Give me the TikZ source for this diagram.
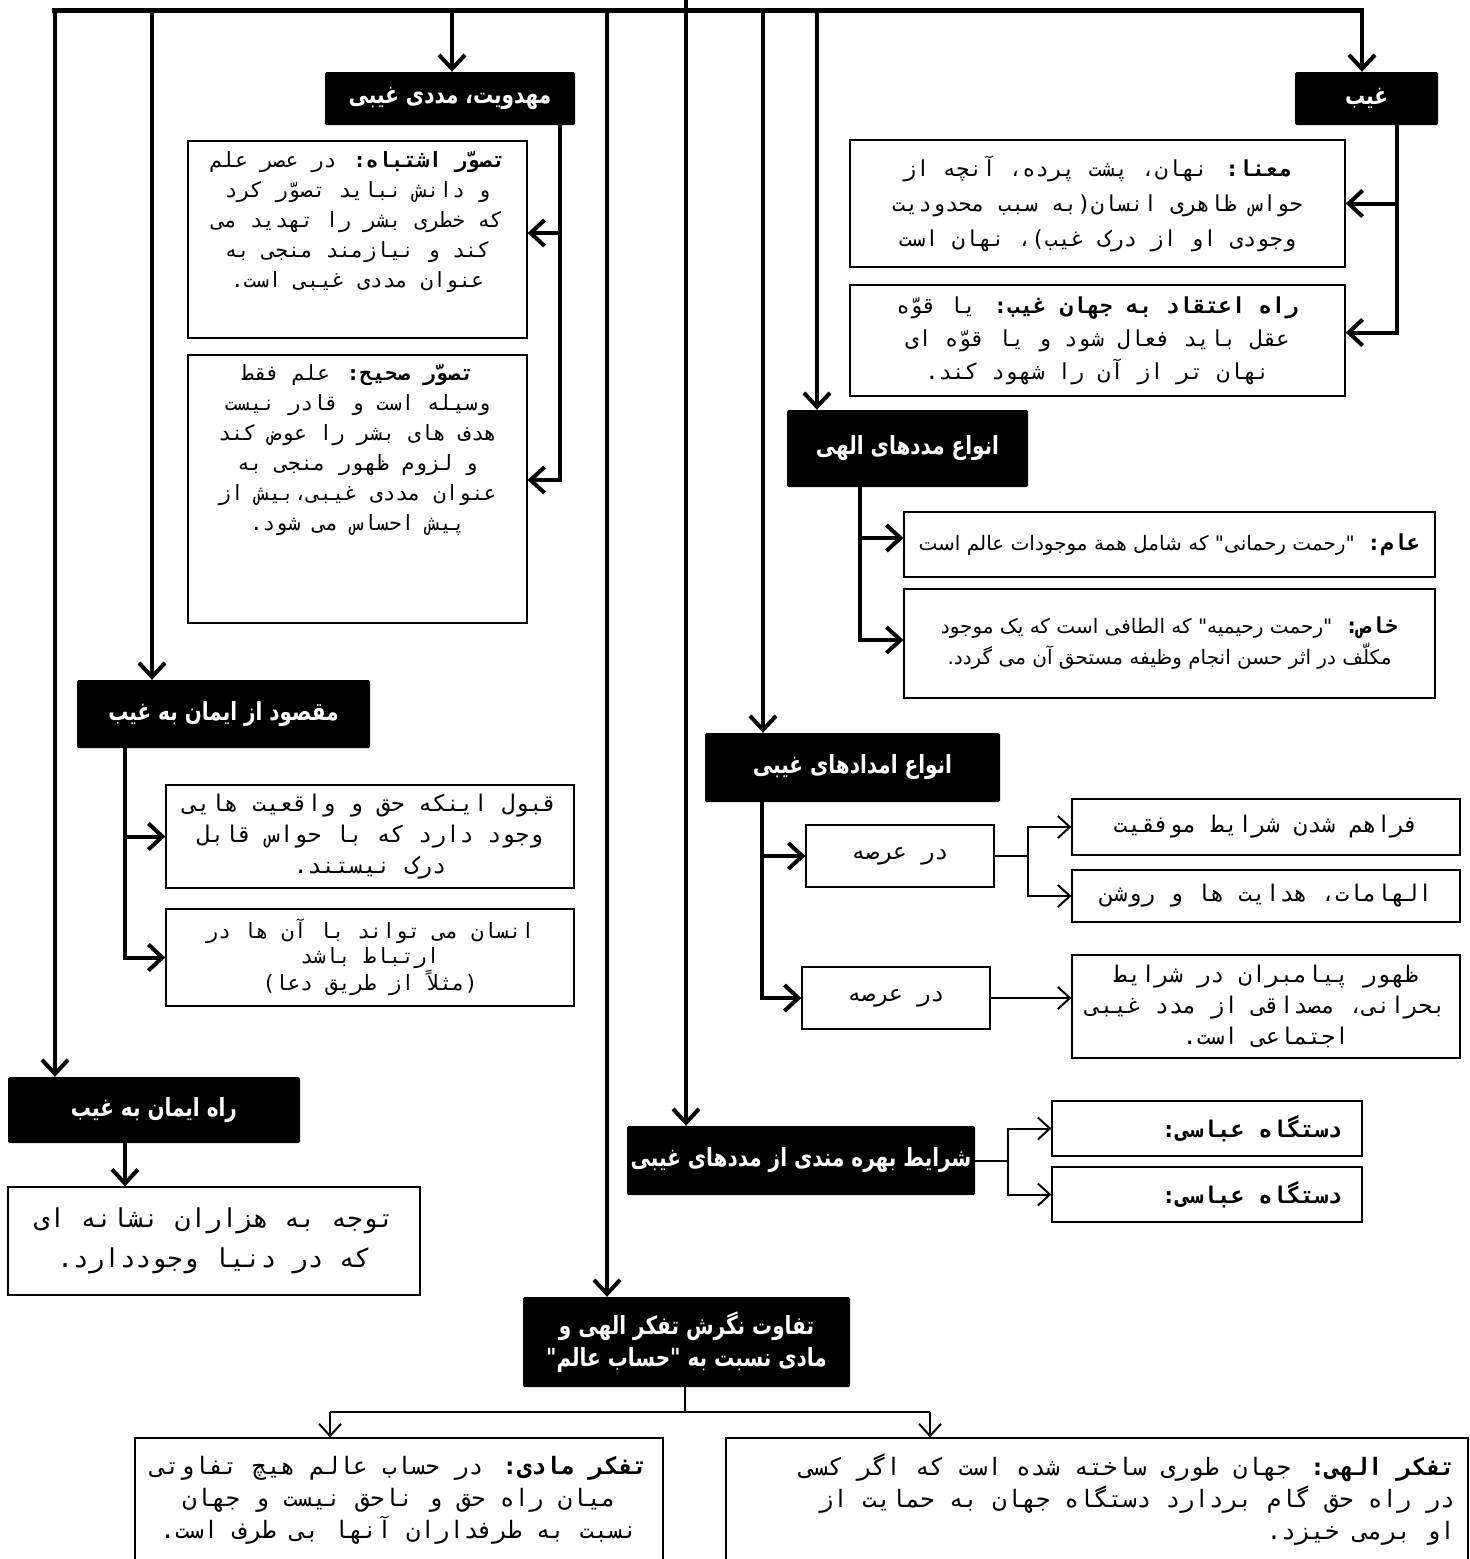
\documentclass[tikz,border=0pt]{standalone}
\usepackage{fontspec}
\usetikzlibrary{arrows.meta,positioning}
\TeXXeTstate=1
\newfontfamily\bodyfa[Script=Arabic]{DejaVu Sans Mono}
\newfontfamily\sansfa[Script=Arabic]{DejaVu Sans}
\newfontfamily\headfa[Script=Arabic,FakeStretch=0.8]{DejaVu Sans}
\newcommand{\rl}[1]{\beginR #1\endR}

\tikzset{
  head/.style={fill=black, rounded corners=1.5pt, text=white, inner sep=0pt,
    font=\headfa\bfseries\fontsize{25}{32}\selectfont, align=center},
  panel/.style={draw, line width=1.3pt, inner sep=0pt, align=center,
    font=\bodyfa\fontsize{23}{31}\selectfont},
  words/.style={inner sep=0pt, align=center, font=\bodyfa\fontsize{21}{30}\selectfont},
  link/.style={line width=4pt},
  fine/.style={line width=2pt},
  bigarrow/.style={-{Straight Barb[length=14pt,width=26pt]}},
  smallarrow/.style={-{Straight Barb[length=12pt,width=22pt]}},
}

\begin{document}
\begin{tikzpicture}[x=1pt,y=-1pt]
  \useasboundingbox (0,0) rectangle (1470,1559);

  % black heads
  \node[head, minimum width=143, minimum height=53] (ghayb) at (1366.5,98.5) {\rl{غیب}};
  \node[head, minimum width=250, minimum height=53] (mahdaviat) at (450,98.5) {\rl{مهدویت، مددی غیبی}};
  \node[head, minimum width=241, minimum height=77] (madadha) at (907.5,448.5) {\rl{انواع مددهای الهی}};
  \node[head, minimum width=295, minimum height=69] (emdadha) at (852.5,767.5) {\rl{انواع امدادهای غیبی}};
  \node[head, minimum width=293, minimum height=68] (maghsud) at (223.5,714) {\rl{مقصود از ایمان به غیب}};
  \node[head, minimum width=292, minimum height=66] (rah) at (154,1110) {\rl{راه ایمان به غیب}};
  \node[head, minimum width=348, minimum height=69] (sharayet) at (801,1160.5) {\rl{شرایط بهره مندی از مددهای غیبی}};
  \node[head, minimum width=327, minimum height=90] (tafavot) at (686.5,1342)
    {\rl{تفاوت نگرش تفکر الهی و}\\\rl{مادی نسبت به "حساب عالم"}};

  % white boxes
  \node[panel, minimum width=495, minimum height=127, font=\bodyfa\fontsize{22}{35}\selectfont] (mana) at (1097.5,203.5)
    {\rl{\textbf{معنا:} نهان، پشت پرده، آنچه از}\\
     \rl{حواس ظاهری انسان(به سبب محدودیت}\\
     \rl{وجودی او از درک غیب)، نهان است}};
  \node[panel, minimum width=495, minimum height=111, font=\bodyfa\fontsize{22}{33}\selectfont] (etghad) at (1097.5,340.5)
    {\rl{\textbf{راه اعتقاد به جهان غیب:} یا قوّه}\\
     \rl{عقل باید فعال شود و یا قوّه ای}\\
     \rl{نهان تر از آن را شهود کند.}};

  \node[panel, minimum width=339, minimum height=197] (eshtebah) at (357.5,239.5) {};
  \node[words] (eshtebahtext) at (357.5,222)
    {\rl{\textbf{تصوّر اشتباه:} در عصر علم}\\
     \rl{و دانش نباید تصوّر کرد}\\
     \rl{که خطری بشر را تهدید می}\\
     \rl{کند و نیازمند منجی به}\\
     \rl{عنوان مددی غیبی است.}};
  \node[panel, minimum width=339, minimum height=268] (sahih) at (357.5,489) {};
  \node[words] (sahihtext) at (357.5,450)
    {\rl{\textbf{تصوّر صحیح:} علم فقط}\\
     \rl{وسیله است و قادر نیست}\\
     \rl{هدف های بشر را عوض کند}\\
     \rl{و لزوم ظهور منجی به}\\
     \rl{عنوان مددی غیبی،بیش از}\\
     \rl{پیش احساس می شود.}};

  \node[panel, minimum width=531, minimum height=65, font=\sansfa\fontsize{20}{30}\selectfont] (aam) at (1169.5,544.5)
    {\rl{{\bodyfa\bfseries\fontsize{22}{30}\selectfont عام:}\ \ "رحمت رحمانی" که شامل همة موجودات عالم است}};
  \node[panel, minimum width=531, minimum height=109, font=\sansfa\fontsize{20}{31}\selectfont] (khas) at (1169.5,643.5)
    {\rl{{\bodyfa\bfseries\fontsize{22}{31}\selectfont خاص:}\ \ "رحمت رحیمیه" که الطافی است که یک موجود}\\
     \rl{مکلّف در اثر حسن انجام وظیفه مستحق آن می گردد.}};

  \node[panel, minimum width=188, minimum height=62] (arse1) at (900,856) {\rl{در عرصه}};
  \node[panel, minimum width=188, minimum height=62] (arse2) at (896,998) {\rl{در عرصه}};
  \node[panel, minimum width=388, minimum height=56] (faraham) at (1266,827) {\rl{فراهم شدن شرایط موفقیت}};
  \node[panel, minimum width=388, minimum height=52] (elhamat) at (1266,896) {\rl{الهامات، هدایت ها و روشن}};
  \node[panel, minimum width=388, minimum height=103] (zohur) at (1266,1006.5)
    {\rl{ظهور پیامبران در شرایط}\\
     \rl{بحرانی، مصداقی از مدد غیبی}\\
     \rl{اجتماعی است.}};

  \node[panel, minimum width=310, minimum height=55] (dastgah1) at (1207,1128.5) {};
  \node[words, anchor=east, font=\bodyfa\bfseries\fontsize{23}{30}\selectfont] (dastgah1text) at (1342,1128.5)
    {\rl{دستگاه عباسی:}};
  \node[panel, minimum width=310, minimum height=55] (dastgah2) at (1207,1194.5) {};
  \node[words, anchor=east, font=\bodyfa\bfseries\fontsize{23}{30}\selectfont] (dastgah2text) at (1342,1194.5)
    {\rl{دستگاه عباسی:}};

  \node[panel, minimum width=408, minimum height=103] (ghabul) at (370,836.5)
    {\rl{قبول اینکه حق و واقعیت هایی}\\
     \rl{وجود دارد که با حواس قابل}\\
     \rl{درک نیستند.}};
  \node[panel, minimum width=408, minimum height=97, font=\bodyfa\fontsize{21}{25}\selectfont] (ensan) at (370,957.5)
    {\rl{انسان می تواند با آن ها در}\\
     \rl{ارتباط باشد}\\
     \rl{(مثلاً از طریق دعا)}};

  \node[panel, minimum width=412, minimum height=108, font=\bodyfa\fontsize{26}{40}\selectfont] (tavajoh) at (214,1241)
    {\rl{توجه به هزاران نشانه ای}\\
     \rl{که در دنیا وجوددارد.}};

  \node[panel, minimum width=528, minimum height=124, font=\bodyfa\fontsize{24}{32}\selectfont] (maddi) at (399,1500)
    {\rl{\textbf{تفکر مادی:} در حساب عالم هیچ تفاوتی}\\
     \rl{میان راه حق و ناحق نیست و جهان}\\
     \rl{نسبت به طرفداران آنها بی طرف است.}};
  \node[panel, minimum width=742, minimum height=124] (elahi) at (1097,1500) {};
  \node[words, anchor=east, align=right, font=\bodyfa\fontsize{24}{32}\selectfont] (elahitext) at (1455,1500)
    {\rl{\textbf{تفکر الهی:} جهان طوری ساخته شده  است که اگر کسی}\\
     \rl{در راه حق گام بردارد دستگاه جهان به حمایت از}\\
     \rl{او برمی خیزد.}};

  % top bar and drops
  \coordinate (top) at (686,0);
  \coordinate (barL) at (52,10);
  \coordinate (barR) at (1364,10);
  \draw[link, line width=5pt] (barL) -- (barR);
  \draw[link, bigarrow] (top) -- (top |- sharayet.north);
  \foreach \x/\t in {55/rah,152/maghsud,452/mahdaviat,607/tafavot,763/emdadha,817/madadha,1362/ghayb}{
    \coordinate (drop\t) at (\x,10);
    \draw[link, bigarrow] (drop\t) -- (drop\t |- \t.north);
  }

  % ghayb
  \coordinate (gspine) at (1397,125);
  \draw[link, bigarrow] (gspine) |- ([yshift=8pt]etghad.east);
  \draw[link, bigarrow] (gspine |- mana.east) -- (mana.east);

  % mahdaviat
  \coordinate (mspine) at (560,125);
  \draw[link, bigarrow] (mspine) |- ([yshift=9pt]sahih.east);
  \draw[link, bigarrow] (mspine |- eshtebah.east) ++(0,-6.5) -- ([yshift=6.5pt]eshtebah.east);

  % madadha
  \coordinate (dspine) at (860,487);
  \draw[link, bigarrow] (dspine) |- ([yshift=3.5pt]khas.east -| khas.west);
  \draw[link, bigarrow] (dspine |- aam.west) ++(0,-6.5) -- ([yshift=6.5pt]aam.west);

  % emdadha
  \coordinate (espine) at (762,802);
  \draw[link, bigarrow] (espine) |- (arse2.west);
  \draw[link, bigarrow] (espine |- arse1.west) -- (arse1.west);
  \coordinate (fork1) at (1028,856);
  \draw[fine] (arse1.east) -- (fork1);
  \draw[fine, smallarrow] (fork1) |- (faraham.west);
  \draw[fine, smallarrow] (fork1) |- (elhamat.west);
  \draw[fine, smallarrow] (arse2.east) -- (arse2.east -| zohur.west);

  % sharayet
  \coordinate (fork2) at (1008,1161);
  \draw[fine] (sharayet.east |- fork2) -- (fork2);
  \draw[fine, smallarrow] (fork2) |- (dastgah1.west);
  \draw[fine, smallarrow] (fork2) |- (dastgah2.west);

  % maghsud
  \coordinate (qspine) at (125,748);
  \draw[link, bigarrow] (qspine) |- (ensan.west);
  \draw[link, bigarrow] (qspine |- ghabul.west) -- (ghabul.west);

  % rah
  \coordinate (rdrop) at (125,1143);
  \draw[link, bigarrow] (rdrop) -- (rdrop |- tavajoh.north);

  % tafavot
  \coordinate (tfork) at (685,1412);
  \coordinate (tleft) at (330,1412);
  \coordinate (tright) at (930,1412);
  \draw[fine] (tfork |- tafavot.south) -- (tfork);
  \draw[fine] (tleft) -- (tright);
  \draw[fine, smallarrow] (tleft) -- (tleft |- maddi.north);
  \draw[fine, smallarrow] (tright) -- (tright |- elahi.north);
\end{tikzpicture}
\end{document}
